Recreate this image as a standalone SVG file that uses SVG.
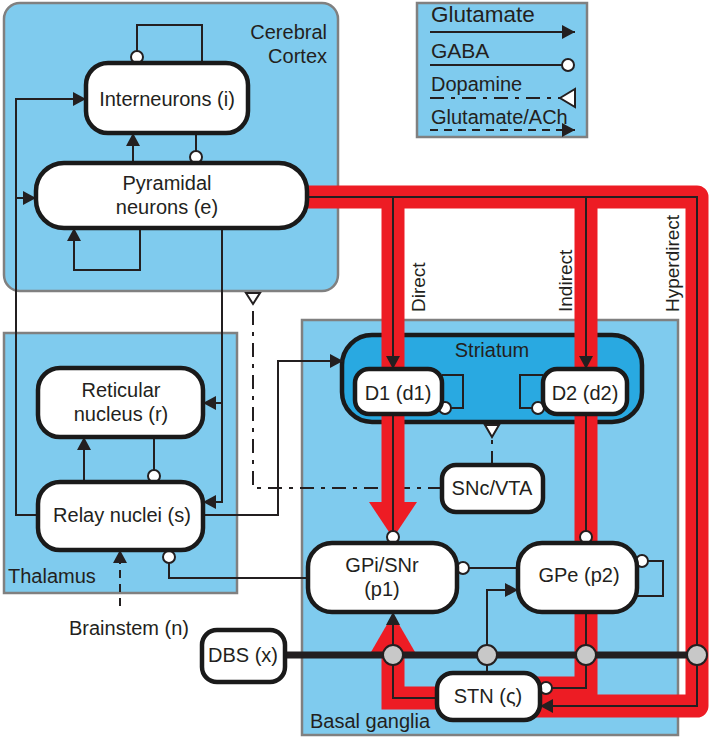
<svg xmlns="http://www.w3.org/2000/svg" width="712" height="740" viewBox="0 0 712 740">
<defs>
<style>
.region{fill:#7fcbee;stroke:#808080;stroke-width:2.5}
.node{fill:#fff;stroke:#1a1a1a;stroke-width:4.5}
.t{font-family:"Liberation Sans",Arial,sans-serif;font-size:20px;fill:#231f20;text-anchor:middle}
.ts{font-family:"Liberation Sans",Arial,sans-serif;font-size:20px;fill:#231f20;text-anchor:start}
.te{font-family:"Liberation Sans",Arial,sans-serif;font-size:20px;fill:#231f20;text-anchor:end}
.tr{font-family:"Liberation Sans",Arial,sans-serif;font-size:19px;fill:#231f20;text-anchor:start}
.ln{fill:none;stroke:#231f20;stroke-width:2}
.arr{marker-end:url(#ah)}
.dash{stroke-dasharray:8 6}
.dopa{fill:none;stroke:#231f20;stroke-width:2;stroke-dasharray:14 7 4 7}
.red{fill:none;stroke:#ed1c24;stroke-width:23}
.redf{fill:#ed1c24}
.gaba{fill:#fff;stroke:#231f20;stroke-width:2}
.dtri{fill:#fff;stroke:#231f20;stroke-width:2}
.dbsc{fill:#c8c8c8;stroke:#231f20;stroke-width:2}
</style>
<marker id="ah" viewBox="0 0 13 14" refX="13" refY="7" markerWidth="13" markerHeight="14" markerUnits="userSpaceOnUse" orient="auto">
<path d="M0,0 L13,7 L0,14 z" fill="#231f20"/>
</marker>
</defs>
<rect width="712" height="740" fill="#fff"/>

<g id="regions">
<g id="cortex"><rect class="region" x="4" y="3" width="334" height="288" rx="16"/>
<text class="te" x="327" y="39">Cerebral</text><text class="te" x="327" y="63">Cortex</text></g>
<g id="thalamus"><rect class="region" x="4" y="333" width="233" height="260"/>
<text class="ts" x="8" y="583">Thalamus</text></g>
<g id="basal-ganglia"><rect class="region" x="302" y="320" width="376" height="415"/>
<text class="ts" x="310" y="728">Basal ganglia</text></g>
<g id="striatum"><rect x="342" y="335" width="300" height="87" rx="30" fill="#29a9e1" stroke="#1a1a1a" stroke-width="4.5"/>
<text class="t" x="492" y="357">Striatum</text></g>
</g>

<g id="legend">
<rect class="region" x="417" y="3" width="170" height="134"/>
<text class="ts" x="431" y="22" style="font-size:22.5px">Glutamate</text>
<path class="ln arr" d="M430 32 H575"/>
<text class="ts" x="431" y="58" style="font-size:21px">GABA</text>
<path class="ln" d="M430 65 H562"/><circle class="gaba" cx="568" cy="65" r="6"/>
<text class="ts" x="431" y="91">Dopamine</text>
<path class="dopa" d="M430 98 H560"/><polygon class="dtri" points="560,98 575,89 575,107"/>
<text class="ts" x="431" y="124">Glutamate/ACh</text>
<path class="ln dash arr" d="M430 130 H575"/>
</g>

<g id="connectors">
<path class="dopa" d="M442 488 H253 V304"/>
<polygon class="dtri" points="246,293 260,293 253,304"/>
<path class="dopa" d="M492 465 V437"/>
<polygon class="dtri" points="485,425 499,425 492,437"/>
<path class="red" d="M300 197 H697 V706 H530" stroke-linejoin="round"/>
<path class="red" d="M393 197 V503"/>
<polygon class="redf" points="369,502 417,502 393,538"/>
<path class="red" d="M586 197 V688 H530"/>
<path class="red" d="M445 698 H393 V650"/>
<polygon class="redf" points="371,652 415,652 393,614"/>
<path class="ln" d="M137 51 V25 H202 V63"/><circle class="gaba" cx="137" cy="57" r="6"/>
<path class="ln arr" d="M133 163 V133"/>
<path class="ln" d="M196 133 V151"/><circle class="gaba" cx="196" cy="157" r="6"/>
<path class="ln arr" d="M140 228 V270 H74 V228"/>
<path class="ln arr" d="M38 515 H16 V99 H86"/>
<path class="ln arr" d="M16 198 H36"/>
<path class="ln arr" d="M222 228 V502 H203"/>
<path class="ln arr" d="M222 403 H203"/>
<path class="ln arr" d="M84 482 V437"/>
<path class="ln" d="M154 437 V470"/><circle class="gaba" cx="154" cy="476" r="6"/>
<path class="ln arr" d="M203 515 H278 V361 H343"/>
<path class="ln" d="M308 578 H169 V563"/><circle class="gaba" cx="169" cy="557" r="6"/>
<path class="ln dash arr" d="M120 606 V550"/>
<path class="ln arr" d="M393 197 V369"/>
<path class="ln" d="M393 414 V531"/><circle class="gaba" cx="393" cy="537" r="6"/>
<path class="ln arr" d="M586 197 V369"/>
<path class="ln" d="M586 414 V531"/><circle class="gaba" cx="586" cy="537" r="6"/>
<path class="ln" d="M586 612 V688 H552"/><circle class="gaba" cx="546" cy="688" r="6"/>
<path class="ln arr" d="M307 197 H697 V706 H540"/>
<path class="ln arr" d="M437 698 H393 V612"/>
<path class="ln arr" d="M487 673 V590 H518"/>
<path class="ln" d="M518 568 H469"/><circle class="gaba" cx="463" cy="568" r="6"/>
<path class="ln" d="M648 561 H663 V596 H637"/><circle class="gaba" cx="642" cy="561" r="6"/>
<path class="ln" d="M442 375 H463 V408 H451"/><circle class="gaba" cx="445" cy="408" r="6"/>
<path class="ln" d="M543 375 H520 V408 H532"/><circle class="gaba" cx="538" cy="408" r="6"/>
<path d="M285 655 H697" fill="none" stroke="#231f20" stroke-width="7"/>
<circle class="dbsc" cx="393" cy="655" r="10"/>
<circle class="dbsc" cx="487" cy="655" r="10"/>
<circle class="dbsc" cx="586" cy="655" r="10"/>
<circle class="dbsc" cx="697" cy="655" r="10"/>
<text class="tr" transform="translate(425,312) rotate(-90)">Direct</text>
<text class="tr" transform="translate(572,312) rotate(-90)">Indirect</text>
<text class="tr" transform="translate(679,312) rotate(-90)">Hyperdirect</text>
</g>

<g id="interneurons"><rect class="node" x="86" y="63" width="162" height="70" rx="22"/><text class="t" x="167" y="106">Interneurons (i)</text></g>
<g id="pyramidal"><rect class="node" x="36" y="163" width="271" height="65" rx="28"/><text class="t" x="167" y="190">Pyramidal</text><text class="t" x="167" y="214">neurons (e)</text></g>
<g id="reticular"><rect class="node" x="38" y="368" width="165" height="69" rx="22"/><text class="t" x="121" y="397">Reticular</text><text class="t" x="121" y="421">nucleus (r)</text></g>
<g id="relay"><rect class="node" x="38" y="482" width="165" height="68" rx="22"/><text class="t" x="122" y="522">Relay nuclei (s)</text></g>
<g id="d1"><rect class="node" x="355" y="369" width="87" height="45" rx="14"/><text class="t" x="398" y="400">D1 (d1)</text></g>
<g id="d2"><rect class="node" x="543" y="369" width="84" height="45" rx="14"/><text class="t" x="585" y="400">D2 (d2)</text></g>
<g id="snc"><rect class="node" x="442" y="465" width="101" height="47" rx="14"/><text class="t" x="492" y="495">SNc/VTA</text></g>
<g id="gpi"><rect class="node" x="308" y="543" width="149" height="69" rx="24"/><text class="t" x="382" y="572">GPi/SNr</text><text class="t" x="382" y="596">(p1)</text></g>
<g id="gpe"><rect class="node" x="518" y="543" width="119" height="69" rx="24"/><text class="t" x="579" y="582">GPe (p2)</text></g>
<g id="stn"><rect class="node" x="437" y="673" width="103" height="47" rx="16"/><text class="t" x="488" y="703">STN (ς)</text></g>
<g id="dbs"><rect class="node" x="202" y="630" width="83" height="52" rx="15"/><text class="t" x="243" y="662">DBS (x)</text></g>
<g id="brainstem"><text class="t" x="129" y="635">Brainstem (n)</text></g>
</svg>
